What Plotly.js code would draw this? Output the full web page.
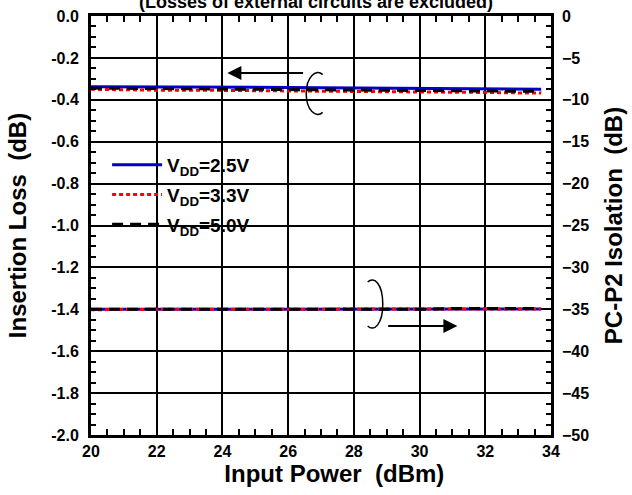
<!DOCTYPE html>
<html>
<head>
<meta charset="utf-8">
<script src="https://cdn.plot.ly/plotly-3.0.1.min.js"></script>
<style>html,body{margin:0;padding:0;background:#fff;}#chart{width:632px;height:495px;}</style>
</head>
<body>
<div id="chart"></div>
<script>
// Input power (dBm)
const inputPower = [20, 21, 22, 23, 24, 25, 26, 27, 28, 29, 30, 31, 32, 33, 33.7];
// Insertion loss (dB), left axis
const ilVdd25 = [-0.338, -0.338, -0.339, -0.340, -0.340, -0.341, -0.341, -0.342, -0.343, -0.344, -0.345, -0.346, -0.347, -0.349, -0.350];
const ilVdd33 = [-0.350, -0.353, -0.354, -0.354, -0.355, -0.356, -0.357, -0.357, -0.358, -0.360, -0.362, -0.363, -0.365, -0.367, -0.368];
const ilVdd50 = [-0.344, -0.345, -0.346, -0.346, -0.347, -0.348, -0.349, -0.350, -0.351, -0.352, -0.354, -0.355, -0.357, -0.359, -0.360];
// PC-P2 isolation (dB), right axis
const isoVdd25 = [-35.0, -35.0, -35.0, -35.0, -35.0, -35.0, -35.0, -35.0, -35.0, -35.0, -35.0, -35.0, -34.95, -34.95, -34.95];
const isoVdd33 = [-35.05, -35.0, -35.0, -35.0, -35.0, -35.0, -35.0, -35.0, -35.0, -35.0, -35.0, -34.95, -34.95, -34.95, -34.95];
const isoVdd50 = [-35.0, -35.0, -35.0, -35.0, -35.0, -35.0, -35.0, -35.0, -35.0, -35.0, -35.0, -34.9, -34.9, -34.9, -34.9];
const seriesNames = ['V<sub>DD</sub>=2.5V', 'V<sub>DD</sub>=3.3V', 'V<sub>DD</sub>=5.0V'];
const leftTicks = [0, -0.2, -0.4, -0.6, -0.8, -1.0, -1.2, -1.4, -1.6, -1.8, -2.0];
const leftTickText = ['0.0', '-0.2', '-0.4', '-0.6', '-0.8', '-1.0', '-1.2', '-1.4', '-1.6', '-1.8', '-2.0'];
const rightTicks = [0, -5, -10, -15, -20, -25, -30, -35, -40, -45, -50];
const xTicks = [20, 22, 24, 26, 28, 30, 32, 34];

const FONT = 'Liberation Sans, Arial, sans-serif';
const styles = [
  {color: '#0000cc', dash: 'solid', width: 3},
  {color: '#ff0000', dash: '4px,3px', width: 3},
  {color: '#000000', dash: '11px,7px', width: 3}
];
const ilSeries = [ilVdd25, ilVdd33, ilVdd50];
const isoSeries = [isoVdd25, isoVdd33, isoVdd50];

const traces = [];
ilSeries.forEach((ys, i) => traces.push({
  x: inputPower, y: ys, type: 'scatter', mode: 'lines', name: seriesNames[i],
  line: styles[i], yaxis: 'y', legendgroup: 'g' + i, showlegend: true
}));
isoSeries.forEach((ys, i) => traces.push({
  x: inputPower, y: ys, type: 'scatter', mode: 'lines', name: seriesNames[i],
  line: styles[i], yaxis: 'y2', legendgroup: 'g' + i, showlegend: false
}));

const tickFont = {family: FONT, size: 16, color: '#000', weight: 'bold'};
const titleFont = {family: FONT, size: 24, color: '#000', weight: 'bold'};

const layout = {
  width: 632, height: 495,
  margin: {l: 91, r: 81, t: 16, b: 60},
  paper_bgcolor: '#fff', plot_bgcolor: '#fff',
  showlegend: true,
  title: {text: '(Losses of external circuits are excluded)', font: {family: FONT, size: 18, color: '#000', weight: 'bold'},
          x: 0.5, xanchor: 'center', y: 0.997, yanchor: 'middle'},
  legend: {x: 0.035, y: 0.69, xanchor: 'left', yanchor: 'top', bgcolor: 'rgba(0,0,0,0)',
           font: {family: FONT, size: 19, color: '#000', weight: 'bold'}, itemwidth: 50, tracegroupgap: 2},
  xaxis: {
    range: [20, 34], tickvals: xTicks, ticks: 'inside', ticklen: 6, tickwidth: 2, tickcolor: '#000',
    showgrid: true, gridcolor: '#000', gridwidth: 2, zeroline: false,
    showline: true, linecolor: '#000', linewidth: 3, mirror: 'allticks',
    minor: {dtick: 0.5, ticks: 'inside', ticklen: 5, tickwidth: 2, tickcolor: '#000', showgrid: false},
    tickfont: tickFont, title: {text: '&nbsp;&nbsp;&nbsp;&nbsp;Input Power  (dBm)', font: titleFont, standoff: 2}
  },
  yaxis: {
    range: [-2, 0], tickvals: leftTicks, ticktext: leftTickText, ticks: 'inside', ticklen: 6, tickwidth: 2, tickcolor: '#000',
    showgrid: true, gridcolor: '#000', gridwidth: 2, zeroline: false,
    showline: true, linecolor: '#000', linewidth: 3, mirror: 'allticks', ticklabelstandoff: 6,
    minor: {dtick: 0.05, ticks: 'inside', ticklen: 5, tickwidth: 2, tickcolor: '#000', showgrid: false},
    tickfont: tickFont, title: {text: 'Insertion Loss  (dB)', font: titleFont, standoff: 18}
  },
  yaxis2: {
    range: [-50, 0], tickvals: rightTicks, overlaying: 'y', side: 'right', ticks: '', showgrid: false, zeroline: false,
    showline: false, tickfont: tickFont, ticklabelstandoff: 10,
    title: {text: 'PC-P2 Isolation  (dB)', font: titleFont, standoff: 16}
  },
  shapes: [
    {type: 'path', xref: 'x', yref: 'y', path: 'M 27.05,-0.28 C 26.85,-0.25 26.55,-0.29 26.55,-0.37 C 26.55,-0.45 26.85,-0.49 27.05,-0.46',
     line: {color: '#000', width: 1.5}},
    {type: 'path', xref: 'x', yref: 'y', path: 'M 28.42,-1.27 C 28.62,-1.24 28.88,-1.28 28.88,-1.375 C 28.88,-1.47 28.62,-1.51 28.42,-1.48',
     line: {color: '#000', width: 1.5}}
  ],
  annotations: [
    {x: 24.15, y: -0.272, ax: 26.5, ay: -0.272, xref: 'x', yref: 'y', axref: 'x', ayref: 'y', text: '',
     showarrow: true, arrowhead: 2, arrowsize: 1.4, arrowwidth: 2, arrowcolor: '#000'},
    {x: 31.15, y: -1.48, ax: 29.0, ay: -1.48, xref: 'x', yref: 'y', axref: 'x', ayref: 'y', text: '',
     showarrow: true, arrowhead: 2, arrowsize: 1.4, arrowwidth: 2, arrowcolor: '#000'}
  ]
};

Plotly.newPlot('chart', traces, layout, {displayModeBar: false, staticPlot: true});
</script>
</body>
</html>
